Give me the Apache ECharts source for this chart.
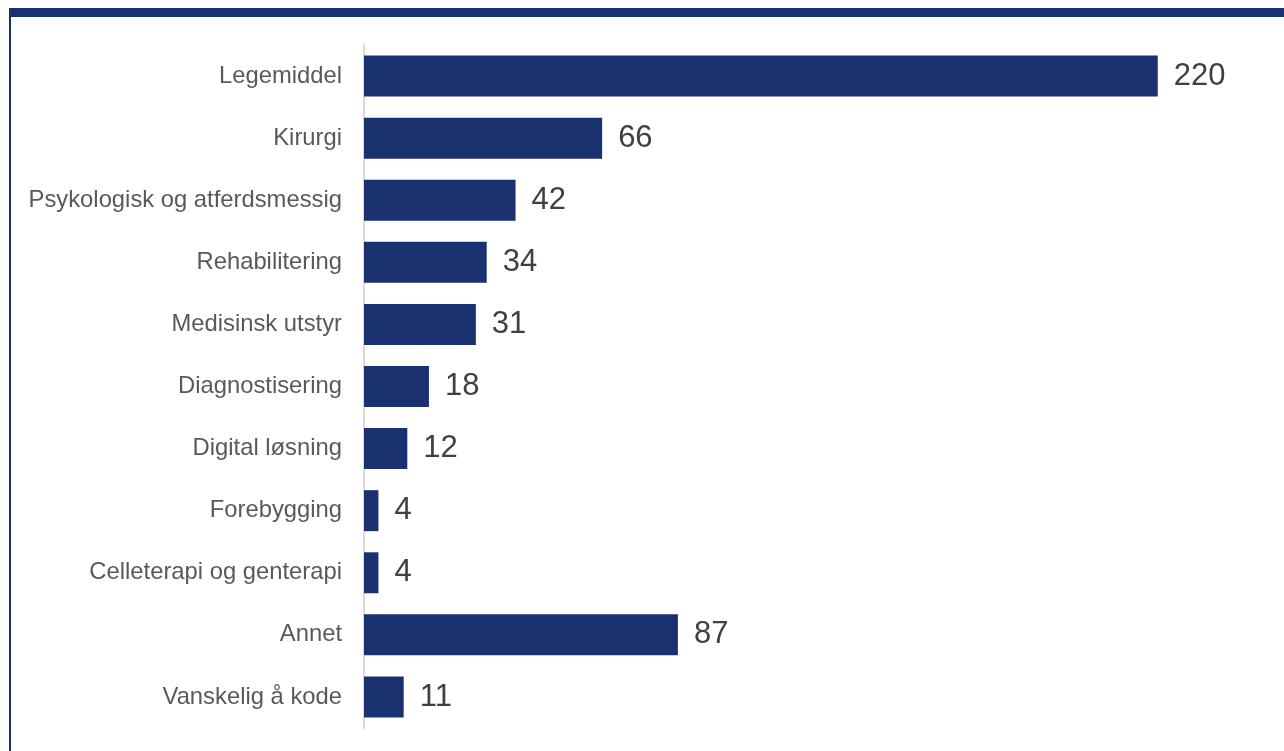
<!DOCTYPE html>
<html><head><meta charset="utf-8">
<script src="https://cdn.jsdelivr.net/npm/echarts@6/dist/echarts.min.js"></script>
<style>html,body{margin:0;padding:0;background:#fff}#c{width:1284px;height:751px}</style>
</head><body><div id="c"></div>
<script>
const categories = ["Legemiddel","Kirurgi","Psykologisk og atferdsmessig","Rehabilitering","Medisinsk utstyr","Diagnostisering","Digital løsning","Forebygging","Celleterapi og genterapi","Annet","Vanskelig å kode"];
const values = [220,66,42,34,31,18,12,4,4,87,11];
const chart = echarts.init(document.getElementById('c'));
chart.setOption({
  animation:false,
  backgroundColor:'#fff',
  graphic:[
    {type:'rect',shape:{x:9,y:8,width:1275,height:9},style:{fill:'#1a3170'}},
    {type:'rect',shape:{x:9,y:8,width:2,height:743},style:{fill:'#1a3170'}}
  ],
  grid:{left:364,top:45,width:902,height:683,containLabel:false},
  xAxis:{type:'value',min:0,max:250,show:false},
  yAxis:{type:'category',inverse:true,data:categories,
    axisLine:{show:true,lineStyle:{color:'#d9d9d9',width:2}},
    axisTick:{show:false},
    axisLabel:{margin:22,color:'#595959',fontSize:23.8,fontFamily:'Liberation Sans, Arial, sans-serif',padding:[4,0,0,0]}},
  series:[{type:'bar',data:values,barCategoryGap:'34%',
    itemStyle:{color:'#1a3170'},
    label:{show:true,position:'right',distance:16,color:'#404040',fontSize:31,fontFamily:'Liberation Sans, Arial, sans-serif',padding:[8,0,0,0]}}]
});
</script></body></html>
